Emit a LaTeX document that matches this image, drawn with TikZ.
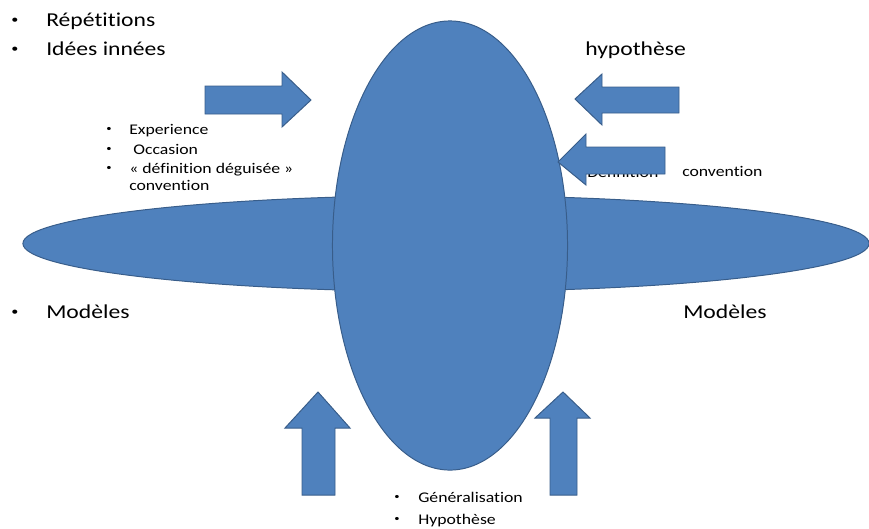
\documentclass[tikz,border=0pt]{standalone}
\usepackage{fontspec}
\setmainfont{Carlito}[FakeStretch=1.2,Ligatures=NoCommon]
\usetikzlibrary{shapes.geometric}
\definecolor{ppblue}{HTML}{4F81BD}
\definecolor{ppedge}{HTML}{385D8A}
\newcommand{\puce}[1][0.875cm]{\makebox[#1][l]{\raisebox{0.15em}{\scalebox{0.6}{\textbullet}}}}
\begin{document}
\begin{tikzpicture}[x=0.025cm,y=-0.025cm,
  blob/.style={ellipse,draw=ppedge,fill=ppblue,line width=0.7pt,inner sep=0pt},
  bloc/.style={draw=ppedge,fill=ppblue,line width=0.7pt},
  bigtxt/.style={anchor=base west,inner sep=0pt,font=\fontsize{14}{17}\selectfont},
  smalltxt/.style={anchor=base west,inner sep=0pt,font=\fontsize{10.5}{12.6}\selectfont}
]
  \useasboundingbox (0,0) rectangle (869,528);
  % the two ellipses
  \node[blob,minimum width=21.15cm,minimum height=2.4cm] (horiz) at (446,243.5) {};
  \node[blob,minimum width=5.875cm,minimum height=11.225cm] (vert) at (450,245.5) {};
  % texts on the left
  \node[bigtxt] (rep) at (11,26) {\puce R\'ep\'etitions};
  \node[bigtxt] (idees) at (11,55) {\puce Id\'ees inn\'ees};
  \node[smalltxt] (exp) at (106,134) {\puce[0.575cm]Experience};
  \node[smalltxt] (occ) at (106,154) {\puce[0.575cm] Occasion};
  \node[smalltxt] (defd) at (106,173) {\puce[0.575cm]« d\'efinition d\'eguis\'ee »};
  \node[smalltxt] (conv) at (129,190) {convention};
  \node[bigtxt] (modg) at (11,318) {\puce Mod\`eles};
  % texts on the right
  \node[bigtxt] (hyp) at (585,55) {hypoth\`ese};
  \node[smalltxt] (defi) at (587,177) {D\'efinition};
  \node[smalltxt] (convd) at (682,176) {convention};
  \node[bigtxt] (modd) at (683,318) {Mod\`eles};
  % texts below
  \node[smalltxt] (gen) at (394,502) {\puce[0.6cm]G\'en\'eralisation};
  \node[smalltxt] (hypo) at (394,524) {\puce[0.6cm]Hypoth\`ese};
  % block arrows
  \draw[bloc] (205,86) -- (282,86) -- (282,72) -- (311,100) -- (282,127) -- (282,114) -- (205,114) -- cycle;
  \draw[bloc] (679,87) -- (602,87) -- (602,74) -- (575,99) -- (602,125) -- (602,113) -- (679,113) -- cycle;
  \draw[bloc] (665,147) -- (586,147) -- (586,134) -- (558,162) -- (586,185) -- (586,174) -- (665,174) -- cycle;
  \draw[bloc] (302,495) -- (302,428) -- (285,428) -- (318,392) -- (350,428) -- (335,428) -- (335,495) -- cycle;
  \draw[bloc] (550,495) -- (550,418) -- (535,418) -- (563,392) -- (590,418) -- (577,418) -- (577,495) -- cycle;
\end{tikzpicture}
\end{document}
